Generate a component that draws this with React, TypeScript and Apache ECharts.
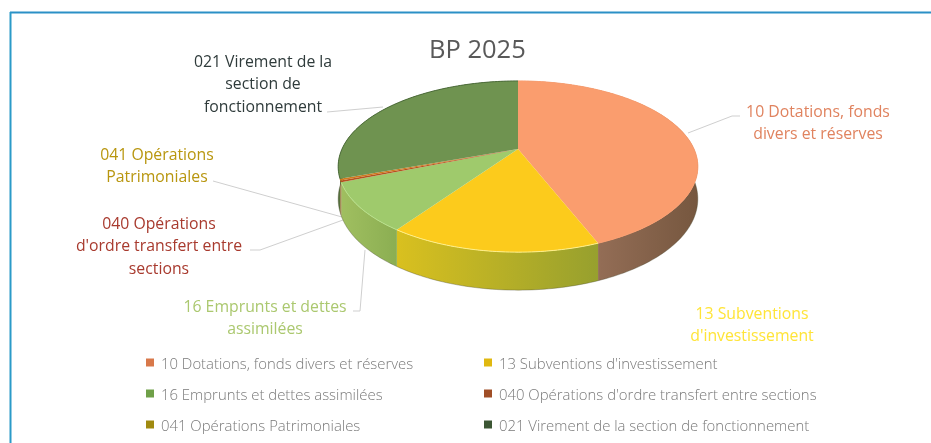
import React, { useEffect, useRef } from "react";
import * as echarts from "echarts";

const titleText = "BP 2025";
const names = [
  "10 Dotations, fonds divers et réserves",
  "13 Subventions d'investissement",
  "16 Emprunts et dettes assimilées",
  "040 Opérations d'ordre transfert entre sections",
  "041 Opérations Patrimoniales",
  "021 Virement de la section de fonctionnement",
];
const values = [44.0, 15.7, 9.2, 0.3, 0.3, 30.5];
const topColors = ["#fa9d6e", "#fccb1c", "#9fca6c", "#b5521f", "#d07a1e", "#6f9350"];
const rimColors = ["#fa9d6e", "#fff08a", "#b8e08a", "#b5521f", "#d07a1e", "#4c6b3a"];
const wallLeft = ["#ab7f68", "#d9c01f", "#a0bf60", "#8a4a20", "#8a6a20", "#55703c"];
const wallRight = ["#76573f", "#97a02e", "#8bae52", "#8a4a20", "#8a6a20", "#55703c"];
const labelColors = ["#e0835f", "#ffe438", "#abc86f", "#a83a2e", "#b8960f", "#2f3b3b"];
const legendMarkers = ["#d8784a", "#e0b810", "#6fa048", "#a04e26", "#a08a10", "#3c5634"];

const labelLines = [
  { c: 0, x: 818, y: 111, lines: ["10 Dotations, fonds", "divers et réserves"] },
  { c: 1, x: 752, y: 313, lines: ["13 Subventions", "d'investissement"] },
  { c: 2, x: 265, y: 306, lines: ["16 Emprunts et dettes", "assimilées"] },
  { c: 3, x: 159, y: 223, lines: ["040 Opérations", "d'ordre transfert entre", "sections"] },
  { c: 4, x: 157, y: 154, lines: ["041 Opérations", "Patrimoniales"] },
  { c: 5, x: 263, y: 61, lines: ["021 Virement de la", "section de", "fonctionnement"] },
];
const leaders = [
  [[688, 133], [732, 116], [740, 116]],
  [[327, 112], [383, 107]],
  [[213, 181], [342, 217]],
  [[250, 250], [260, 250], [343, 220]],
  [[353, 311], [360, 311], [365, 250]],
];

const CX = 518, AY = 149, R = 176, S = 82, K = 0.205;
const total = values.reduce((a, b) => a + b, 0);

function project(theta: number): [number, number] {
  const u = Math.sin(theta), v = -Math.cos(theta);
  const w = 1 - K * v;
  return [CX + (R * u) / w, AY + (S * v) / w];
}
function depth(theta: number) {
  return 31 + 7 * -Math.cos(theta);
}
function arc(a: number, b: number) {
  const n = Math.max(2, Math.ceil(Math.abs(b - a) / 0.02));
  const pts: [number, number][] = [];
  for (let i = 0; i <= n; i++) pts.push(project(a + ((b - a) * i) / n));
  return pts;
}

function makeRenderer(index: number) {
  return (_p: any, api: any) => {
    const value = api.value(0);
    let before = 0;
    for (let i = 0; i < index; i++) before += values[i];
    const a = (before / total) * Math.PI * 2;
    const b = ((before + value) / total) * Math.PI * 2;
    const rim = arc(a, b);
    const low: [number, number][] = rim.map((p, i) => {
      const t = a + ((b - a) * i) / (rim.length - 1);
      return [p[0], p[1] + depth(t)];
    });
    const wall = rim.concat(low.slice().reverse());
    const top = ([[CX, AY]] as [number, number][]).concat(rim);
    const children: any[] = [
      {
        type: "polygon",
        z2: 1,
        shape: { points: wall },
        style: {
          fill: {
            type: "linear", x: 0, y: 0, x2: 1, y2: 0,
            colorStops: [
              { offset: 0, color: wallLeft[index] },
              { offset: 1, color: wallRight[index] },
            ],
          },
        },
      },
      {
        type: "polyline",
        z2: 2,
        shape: { points: low },
        style: { stroke: "#4a4a30", lineWidth: 0.8, opacity: 0.45, fill: null },
      },
      {
        type: "polygon",
        z2: 5,
        shape: { points: top },
        style: { fill: topColors[index] },
      },
      {
        type: "polyline",
        z2: 6,
        shape: { points: rim },
        style: { stroke: rimColors[index], lineWidth: 1, fill: null },
      },
    ];
    return { type: "group", children };
  };
}

export default function App() {
  const ref = useRef<HTMLDivElement>(null);
  useEffect(() => {
    const chart = echarts.init(ref.current!, undefined, { renderer: "svg" });
    const graphic: any[] = [
      { type: "line", shape: { x1: 10, y1: 12.5, x2: 931, y2: 12.5 }, style: { stroke: "#2b90c6", lineWidth: 2 } },
      { type: "line", shape: { x1: 10.5, y1: 12, x2: 10.5, y2: 443 }, style: { stroke: "#2b9ac8", lineWidth: 2 } },
    ];
    leaders.forEach((pts) =>
      graphic.push({
        type: "polyline",
        shape: { points: pts },
        style: { stroke: "#cfcfcf", lineWidth: 1, fill: null },
      })
    );
    labelLines.forEach((l) =>
      l.lines.forEach((t, i) =>
        graphic.push({
          type: "text",
          x: l.x,
          y: l.y + i * 22.3,
          style: {
            text: t,
            fill: labelColors[l.c],
            font: '15.8px "Open Sans"',
            textAlign: "center",
            textVerticalAlign: "middle",
          },
        })
      )
    );
    const legendCommon = {
      orient: "vertical",
      icon: "rect",
      itemWidth: 8,
      itemHeight: 8,
      itemGap: 16,
      padding: 0,
      selectedMode: false,
      textStyle: { color: "#7a7a7a", fontFamily: "Open Sans", fontSize: 14.9, fontWeight: 300, padding: [0, 0, 0, 2] },
    };
    chart.setOption({
      animation: false,
      backgroundColor: "#ffffff",
      title: {
        text: titleText,
        left: 429,
        top: 35,
        padding: 0,
        textStyle: { color: "#595959", fontFamily: "Open Sans", fontSize: 25.5, fontWeight: 400 },
      },
      legend: [
        { ...legendCommon, left: 146, top: 355, data: [names[0], names[2], names[4]] },
        { ...legendCommon, left: 484, top: 355, data: [names[1], names[3], names[5]] },
      ],
      graphic,
      series: names.map((name, i) => ({
        type: "custom",
        name,
        coordinateSystem: "none",
        silent: true,
        itemStyle: { color: legendMarkers[i] },
        data: [[values[i]]],
        renderItem: makeRenderer(i),
      })),
    });
    return () => chart.dispose();
  }, []);
  return (
    <div
      ref={ref}
      style={{ position: "absolute", left: 0, top: 0, width: 931, height: 443, filter: "blur(0.35px)" }}
    />
  );
}
